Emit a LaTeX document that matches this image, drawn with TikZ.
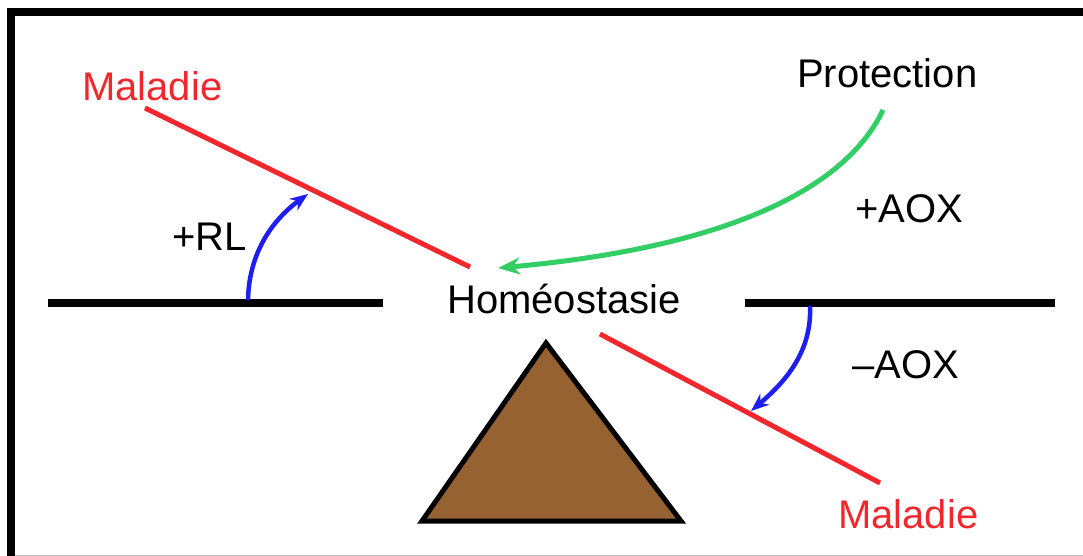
\documentclass[tikz,border=0pt]{standalone}
\usepackage{fontspec}
\setmainfont{Liberation Sans}
\usetikzlibrary{arrows.meta}
\definecolor{mred}{RGB}{240,40,45}
\definecolor{mblue}{RGB}{30,30,240}
\definecolor{mgreen}{RGB}{50,205,100}
\definecolor{mbrown}{RGB}{150,98,50}
\begin{document}
\begin{tikzpicture}[x=1pt,y=-1pt,
  lbl/.style={anchor=base west,inner sep=0pt,font=\fontsize{40}{48}\selectfont},
  bar/.style={line width=8pt,black},
  beam/.style={line width=5pt,mred},
  turn/.style={line width=4.5pt,mblue,-{Stealth[length=18pt,width=14pt]}},
  prot/.style={line width=5pt,mgreen,-{Stealth[length=22pt,width=17pt]}}]
\useasboundingbox (0,0) rectangle (1083,556);
% frame
\draw[line width=8pt] (11,556) -- (11,12) -- (1083,12);
\draw[line width=1pt,black!25] (15,555.5) -- (1083,555.5);
% bars
\coordinate (l1) at (48,303);
\coordinate (l2) at (383,303);
\coordinate (r1) at (745,303);
\coordinate (r2) at (1055,303);
\draw[bar] (l1) -- (l2);
\draw[bar] (r1) -- (r2);
% fulcrum
\coordinate (apex) at (546,343);
\coordinate (bl) at (422,521);
\coordinate (br) at (681,521);
\draw[line width=5pt,fill=mbrown,line join=miter] (apex) -- (br) -- (bl) -- cycle;
% red beams
\coordinate (a1) at (145,108);
\coordinate (a2) at (470,267);
\coordinate (b1) at (600,334);
\coordinate (b2) at (880,483);
\draw[beam] (a1) -- (a2);
\draw[beam] (b1) -- (b2);
% labels
\node[lbl,text=mred] (mal1) at (82,101) {Maladie};
\node[lbl] (prot) at (797,88) {Protection};
\node[lbl] (paox) at (855,222) {+AOX};
\node[lbl] (maox) at (852,378) {–AOX};
\node[lbl] (rl) at (172,250) {+RL};
\node[lbl] (homeo) at (447,313) {Homéostasie};
\node[lbl,text=mred] (mal2) at (838,528) {Maladie};
% blue arrows
\coordinate (u0) at (248,300);
\coordinate (u1) at (308,194);
\draw[turn] (u0) .. controls (249,250) and (275,218) .. (u1);
\coordinate (d0) at (810,306);
\coordinate (d1) at (751,411);
\draw[turn] (d0) .. controls (812,352) and (785,382) .. (d1);
% green arrow
\coordinate (g0) at (883,110);
\coordinate (g1) at (498,268);
\draw[prot] (g0) .. controls (840,200) and (700,250) .. (g1);
\end{tikzpicture}
\end{document}
